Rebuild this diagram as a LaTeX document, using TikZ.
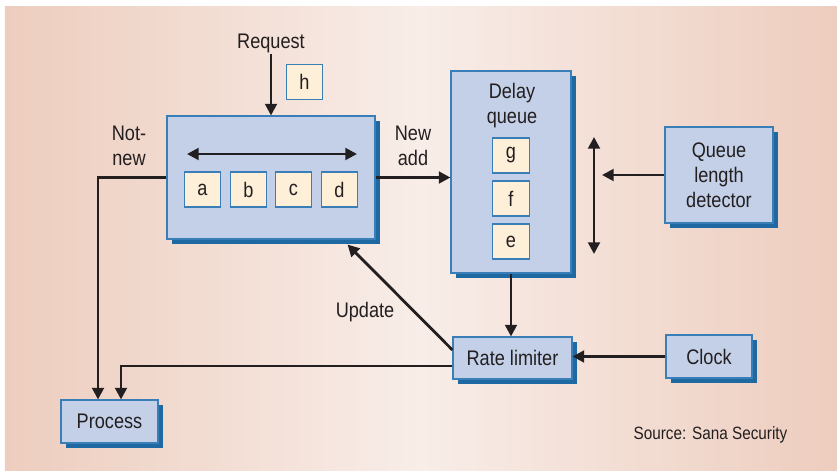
\documentclass[tikz,border=0pt]{standalone}
\usepackage{fontspec}
\setmainfont{Liberation Sans}[FakeStretch=0.86]
\usetikzlibrary{arrows.meta, shadows}

\definecolor{bgside}{HTML}{EDCDBE}
\definecolor{bgmid}{HTML}{F8EDE8}
\definecolor{boxfill}{HTML}{C3D0E8}
\definecolor{boxline}{HTML}{3A7EB8}
\definecolor{boxshadow}{HTML}{1F69A2}
\definecolor{slotfill}{HTML}{FDEFD8}
\definecolor{inktext}{HTML}{231F20}

\tikzset{
  unit/.style={draw=boxline, line width=0.9pt, fill=boxfill, inner sep=0pt, align=center,
    drop shadow={shadow xshift=0.15cm, shadow yshift=-0.15cm, fill=boxshadow, opacity=1}},
  slot/.style={draw=boxline, line width=0.9pt, fill=slotfill, minimum width=1.1cm, minimum height=1.05cm, inner sep=0pt},
  flow/.style={draw=inktext, line width=2.4pt, -{Triangle[length=10pt, width=10pt]}},
  both/.style={draw=inktext, line width=2.4pt, {Triangle[length=10pt, width=10pt]}-{Triangle[length=10pt, width=10pt]}}
}

\begin{document}
\begin{tikzpicture}[every node/.style={text=inktext, font=\fontsize{18}{21.5}\selectfont}]
\useasboundingbox (0,0) rectangle (25.11,14.1);
\shade[left color=bgside, right color=bgside, middle color=bgmid] (0.15,0) rectangle (25.11,13.92);

% boxes
\node[unit, minimum width=6.24cm, minimum height=3.69cm] (filter) at (8.13,8.775) {};
\node[unit, minimum width=3.6cm, minimum height=6.06cm] (delay) at (15.33,8.94) {};
\node[unit, minimum width=3.24cm, minimum height=2.88cm] (qld) at (21.57,8.85) {Queue\\length\\detector};
\node[unit, minimum width=3.57cm, minimum height=1.26cm] (rate) at (15.375,3.36) {Rate limiter};
\node[unit, minimum width=2.58cm, minimum height=1.29cm] (clock) at (21.27,3.405) {Clock};
\node[unit, minimum width=2.91cm, minimum height=1.29cm] (proc) at (3.285,1.455) {Process};

% slots
\node[slot] (a) at (6.075,8.415) {a};
\node[slot] (b) at (7.455,8.415) {b};
\node[slot] (c) at (8.805,8.415) {c};
\node[slot] (d) at (10.185,8.415) {d};
\node[slot] (h) at (9.135,11.64) {h};
\node[slot] (g) at (15.33,9.435) {g};
\node[slot] (f) at (15.33,8.145) {f};
\node[slot] (e) at (15.33,6.855) {e};

% labels
\node[align=center] (dq) at (15.36,10.935) {Delay\\queue};
\node[inner sep=1pt] (req) at (8.13,12.81) {Request};
\node[align=center] (notnew) at (3.87,9.72) {Not-\\new};
\node[align=center] (newadd) at (12.39,9.72) {New\\add};
\node (upd) at (10.95,4.74) {Update};
\node[font=\fontsize{15.2}{18}\selectfont] (src) at (21.315,1.05) {Source: Sana Security};

% free ends
\coordinate (sl) at (5.61,9.48);
\coordinate (sr) at (10.71,9.48);
\coordinate (vt) at (17.82,9.99);
\coordinate (vb) at (17.82,6.48);
\coordinate (vm) at (17.82,8.85);

% connectors
\draw[both] (sl) -- (sr);
\draw[both] (vt) -- (vb);
\draw[flow] (qld.west) -- ([xshift=0.24cm]vm);
\draw[flow] (req.south) -- (filter.north);
\draw[flow] (filter.east) -- (filter.east -| delay.west);
\draw[flow] (filter.west) -| ([xshift=-0.345cm]proc.north);
\draw[flow] (delay.south) -- (delay.south |- rate.north);
\draw[flow] (clock.west) -- (clock.west -| rate.east);
\draw[flow] ([yshift=0.24cm]rate.west) -- ([xshift=-0.84cm, yshift=-0.15cm]filter.south east);
\draw[flow] ([yshift=-0.24cm]rate.west) -| ([xshift=0.345cm]proc.north);

\end{tikzpicture}
\end{document}
